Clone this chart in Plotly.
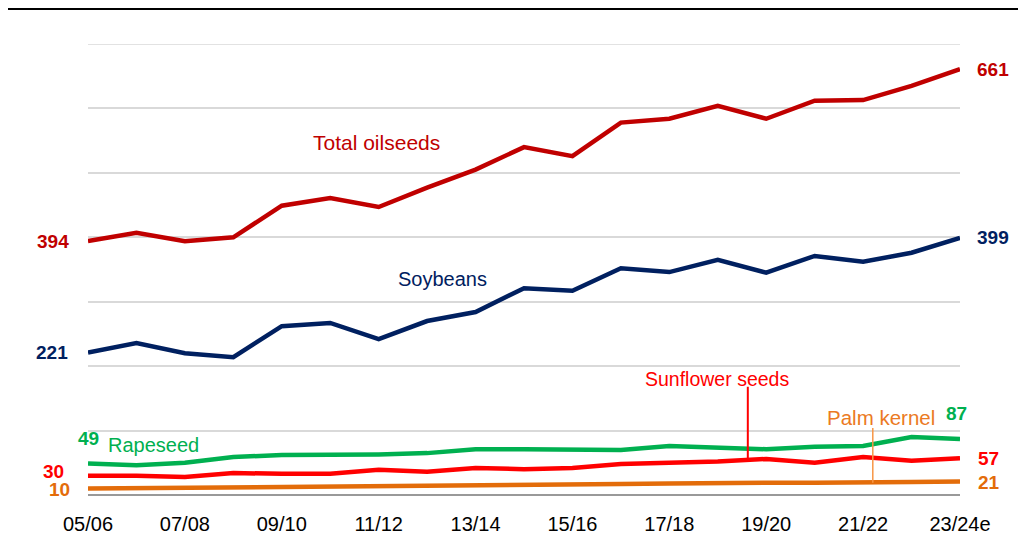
import plotly.graph_objects as go

seasons = ["05/06", "06/07", "07/08", "08/09", "09/10", "10/11", "11/12", "12/13", "13/14", "14/15",
           "15/16", "16/17", "17/18", "18/19", "19/20", "20/21", "21/22", "22/23", "23/24e"]
total_oilseeds = [394, 407, 394, 400, 449, 461, 447, 477, 505, 540, 526, 578, 584, 604, 584, 612, 613, 635, 661]
soybeans = [221, 236, 220, 214, 262, 267, 242, 270, 284, 321, 317, 352, 346, 365, 345, 371, 362, 376, 399]
rapeseed = [49, 46, 50, 59, 62, 62, 63, 65, 71, 71, 70, 70, 76, 74, 71, 75, 76, 90, 87]
sunflower = [30, 30, 28, 34, 33, 33, 39, 36, 42, 40, 42, 48, 50, 52, 56, 50, 59, 53, 57]
palm_kernel = [10, 10.5, 11, 12, 12, 12.5, 13, 14, 15, 16, 16, 17, 18, 19, 19, 19, 19, 20, 21]
tick_labels = ["05/06", "07/08", "09/10", "11/12", "13/14", "15/16", "17/18", "19/20", "21/22", "23/24e"]

FONT = "Liberation Sans, Arial, sans-serif"
C_TOT = "#C00000"
C_SOY = "#002060"
C_RAP = "#00B050"
C_SUN = "#FF0000"
C_PALM = "#E36C0A"
C_PALM_TXT = "#EB7A23"

xs = list(range(len(seasons)))
fig = go.Figure()
for vals, col in [(palm_kernel, C_PALM), (sunflower, C_SUN), (rapeseed, C_RAP),
                  (soybeans, C_SOY), (total_oilseeds, C_TOT)]:
    fig.add_trace(go.Scatter(x=xs, y=vals, mode="lines", line=dict(color=col, width=4.5),
                             hoverinfo="skip", showlegend=False))

ann = []
def lab(x, y, text, color, anchor="center", size=19, bold=True, xshift=0):
    ann.append(dict(x=x, y=y, xref="x", yref="y", text=f"<b>{text}</b>" if bold else text,
                    showarrow=False, xanchor=anchor, yanchor="middle", xshift=xshift,
                    font=dict(family=FONT, size=size, color=color)))

last = len(seasons) - 1
# left value labels
lab(0, total_oilseeds[0], str(total_oilseeds[0]), C_TOT, "right", xshift=-17)
lab(0, soybeans[0], str(soybeans[0]), C_SOY, "right", xshift=-18)
lab(0, 88, str(rapeseed[0]), C_RAP, "center")
lab(0, 37, str(sunflower[0]), C_SUN, "right", xshift=-22)
lab(0, 8, str(palm_kernel[0]), C_PALM, "right", xshift=-16)
# right value labels
lab(last, total_oilseeds[-1], str(total_oilseeds[-1]), C_TOT, "left", xshift=15)
lab(last, soybeans[-1], str(soybeans[-1]), C_SOY, "left", xshift=15)
lab(last, 127, str(rapeseed[-1]), C_RAP, "right", xshift=9)
lab(last, sunflower[-1], str(sunflower[-1]), C_SUN, "left", xshift=16)
lab(last, 19, str(palm_kernel[-1]), C_PALM, "left", xshift=16)
# series labels
lab(5.95, 547, "Total oilseeds", C_TOT, size=21, bold=False)
lab(7.31, 335, "Soybeans", C_SOY, size=20, bold=False)
lab(1.36, 78, "Rapeseed", C_RAP, size=20, bold=False)
lab(12.98, 180, "Sunflower seeds", C_SUN, size=19.5, bold=False)
lab(16.37, 120, "Palm kernel", C_PALM_TXT, size=20.5, bold=False)

shapes = [
    dict(type="line", xref="x", yref="y", x0=0, x1=last, y0=700, y1=700,
         line=dict(color="#D9D9D9", width=1.5), layer="below"),
    dict(type="line", xref="x", yref="y", x0=13.62, x1=13.62, y0=168, y1=56,
         line=dict(color=C_SUN, width=2)),
    dict(type="line", xref="x", yref="y", x0=16.2, x1=16.2, y0=104, y1=19,
         line=dict(color="#F79646", width=1.5)),
    dict(type="line", xref="paper", yref="paper", x0=-0.1, x1=1.1, y0=1.0776, y1=1.0776,
         line=dict(color="#000000", width=2)),
]

fig.update_layout(
    width=1026, height=554,
    margin=dict(l=80, r=74, t=36, b=67),
    paper_bgcolor="white", plot_bgcolor="white",
    annotations=ann, shapes=shapes,
    xaxis=dict(range=[0, last], tickmode="array", tickvals=xs[::2], ticktext=tick_labels,
               showgrid=False, zeroline=False, showline=False, ticks="",
               ticklabelstandoff=15,
               tickfont=dict(family=FONT, size=20, color="#000000")),
    yaxis=dict(range=[0, 700], dtick=100, showgrid=True, gridcolor="#D9D9D9", gridwidth=1.5,
               showticklabels=False, zeroline=True, zerolinecolor="#999999", zerolinewidth=2,
               showline=False, ticks=""),
)
fig.write_html("out.html")
